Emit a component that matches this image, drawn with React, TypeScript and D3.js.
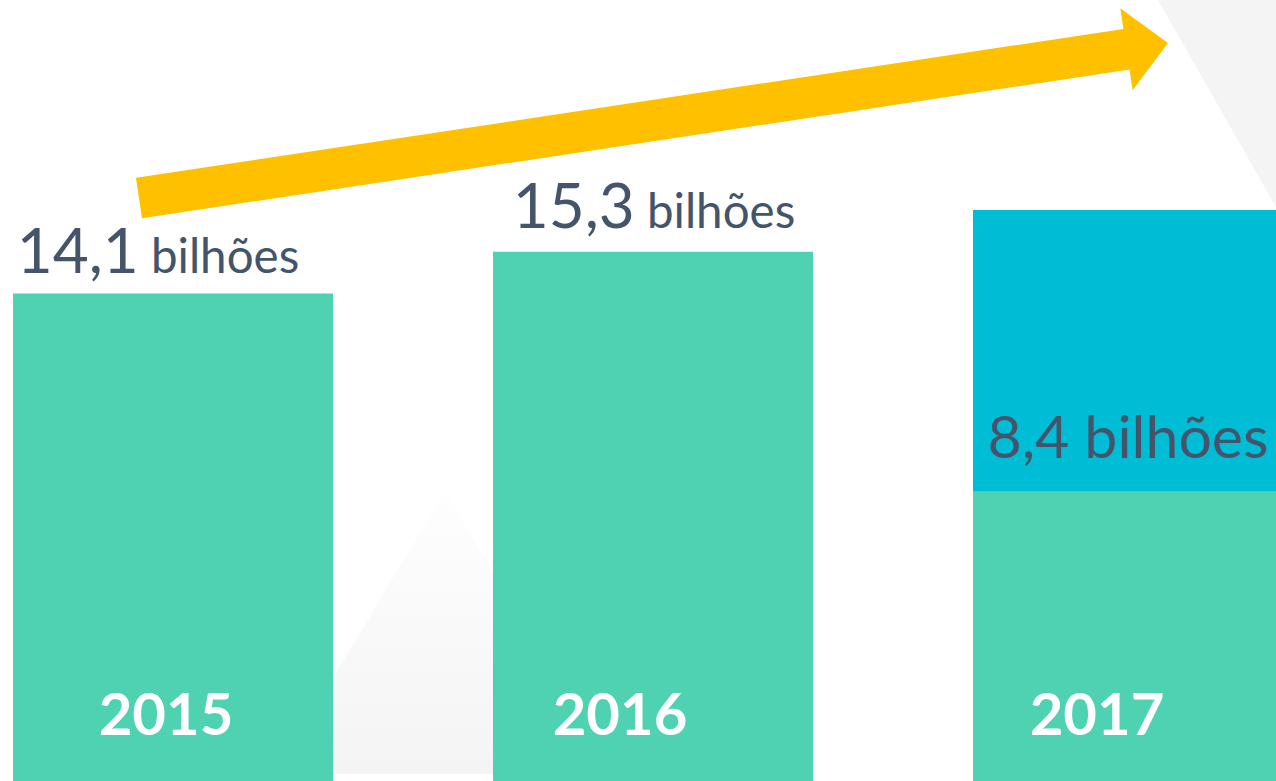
import React from 'react';
import * as d3 from 'd3';

// chart data
const years = ['2015', '2016', '2017'];
const realized = [14.1, 15.3, 8.4];
const projected = [0, 0, 8.1];
const valueLabels = ['14,1', '15,3', '8,4'];
const unitLabel = 'bilhões';

const W = 1276;
const H = 781;
const GREEN = '#4ed2b2';
const CYAN = '#00bdd6';
const TEXT = '#44546a';
const YELLOW = '#ffc000';

// small horizontal nudges of the labels (px), as in the original slide
const valueNudge = [-15, 1, -5];
const yearNudge = [-7, -33, -36];

const App = () => {
  const x = d3.scaleBand<string>().domain(years).range([13, 1293]).paddingInner(1 / 3).paddingOuter(0);
  const y = d3.scaleLinear().domain([0, 16.5]).range([784, 210]);

  const stack = years.map((yr, i) => ({ yr, a: realized[i], b: projected[i] }));

  // arrow: centre line from above the first bar to the tip at top right
  const sx = 139, sy = 198, tx = 1168, ty = 43;
  const ang = Math.atan2(ty - sy, tx - sx);
  const shaft = 41, head = 83, headLen = 42;
  const ux = Math.cos(ang), uy = Math.sin(ang);
  const nx = -uy, ny = ux;
  const bx = tx - ux * headLen, by = ty - uy * headLen;
  const pts: [number, number][] = [
    [sx - nx * shaft / 2, sy - ny * shaft / 2],
    [bx - nx * shaft / 2, by - ny * shaft / 2],
    [bx - nx * head / 2, by - ny * head / 2],
    [tx, ty],
    [bx + nx * head / 2, by + ny * head / 2],
    [bx + nx * shaft / 2, by + ny * shaft / 2],
    [sx + nx * shaft / 2, sy + ny * shaft / 2],
  ];
  const arrowPath = d3.line()(pts) + 'Z';

  return (
    <svg width={W} height={H} style={{ position: 'absolute', left: 0, top: 0, display: 'block' }}
      fontFamily="Lato, 'Noto Sans', sans-serif">
      <defs>
        <linearGradient id="tri" x1="0" y1="0" x2="0" y2="1">
          <stop offset="0" stopColor="#fefefe" />
          <stop offset="1" stopColor="#f4f4f4" />
        </linearGradient>
      </defs>
      <rect width={W} height={H} fill="#fff" />
      {/* background decoration */}
      <polygon points="1158,0 1276,0 1276,207" fill="#f4f4f4" />
      <polygon points="445,491 333,678 333,774 493,774 493,572" fill="url(#tri)" />

      {stack.map((d) => (
        <g key={d.yr}>
          {d.b > 0 && (
            <rect x={x(d.yr)} y={y(d.a + d.b)} width={x.bandwidth()} height={y(d.a) - y(d.a + d.b)} fill={CYAN} />
          )}
          <rect x={x(d.yr)} y={y(d.a)} width={x.bandwidth()} height={H - y(d.a)} fill={GREEN} />
        </g>
      ))}

      <path d={arrowPath} fill={YELLOW} />

      {stack.map((d, i) => {
        const top = y(d.a + d.b);
        const inside = d.b > 0;
        const cx = (x(d.yr) as number) + x.bandwidth() / 2 + valueNudge[i];
        return (
          <text key={'v' + d.yr} x={cx} y={inside ? y(d.a) - 34 : top - (i === 0 ? 20 : 24)}
            textAnchor="middle" fill={TEXT}>
            <tspan fontSize={inside ? 59 : 62}>{valueLabels[i]}</tspan>
            <tspan fontSize={inside ? 59 : 47.5}>{' ' + unitLabel}</tspan>
          </text>
        );
      })}

      {years.map((yr, i) => (
        <text key={'y' + yr} x={(x(yr) as number) + x.bandwidth() / 2 + yearNudge[i]} y={735}
          textAnchor="middle" fill="#fff" fontWeight="bold" fontSize={58}>
          {yr}
        </text>
      ))}
    </svg>
  );
};

export default App;
